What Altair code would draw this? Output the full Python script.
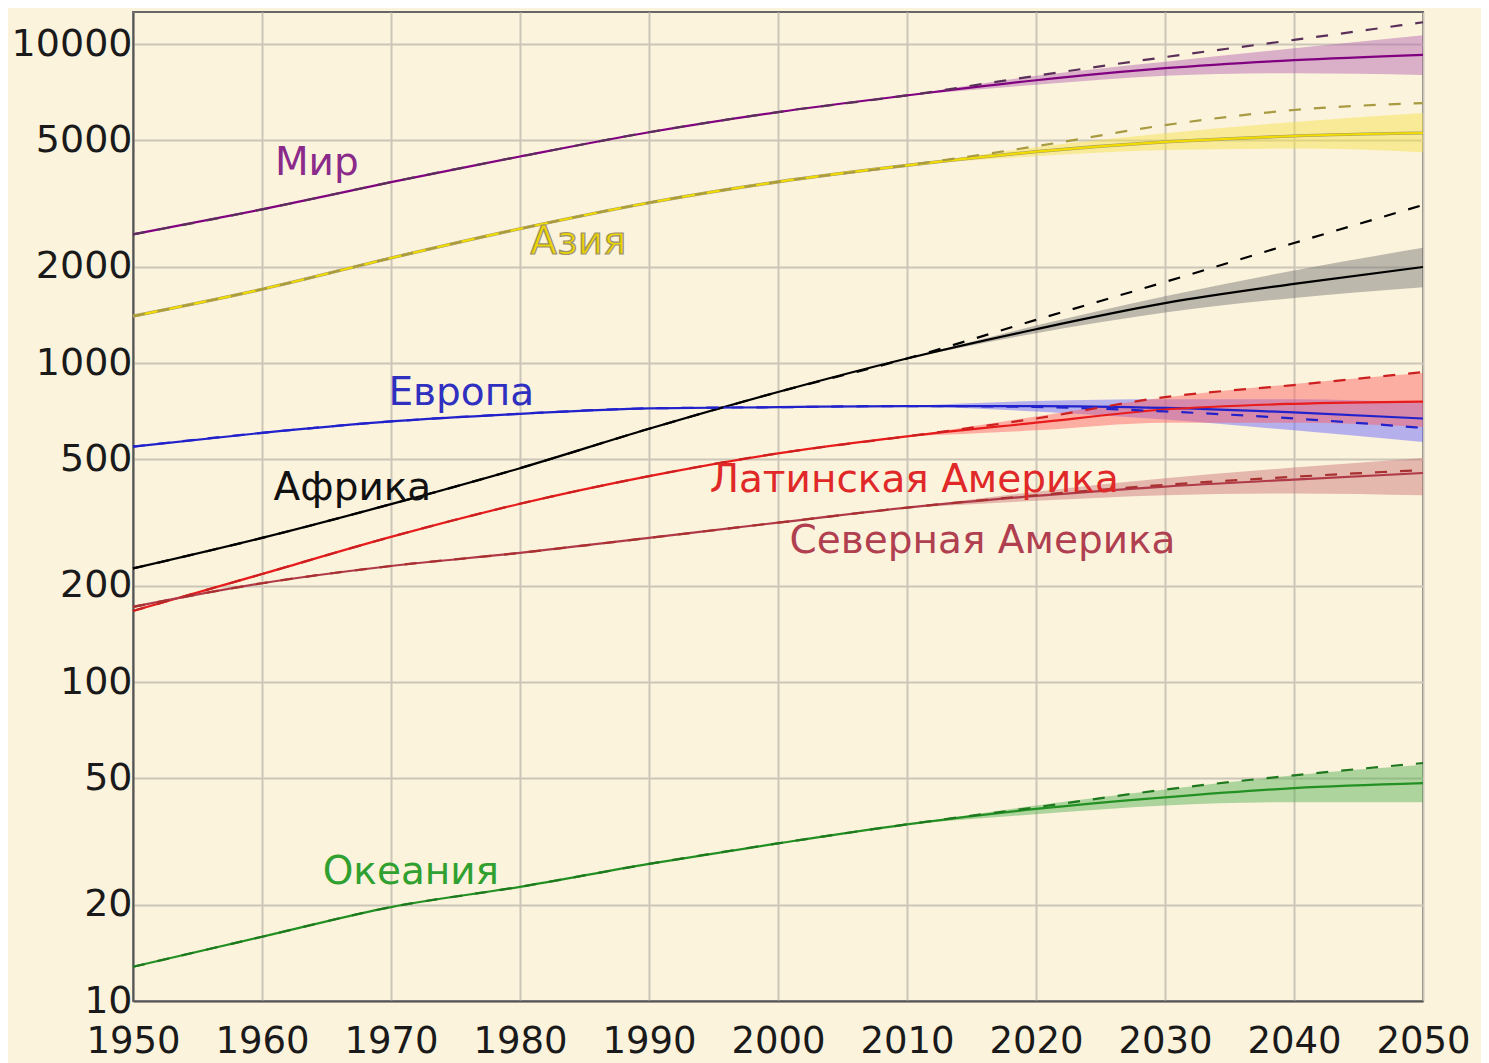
import altair as alt
import pandas as pd

# ---- data (millions) ----
years = [1950, 1960, 1970, 1980, 1990, 2000, 2010, 2020, 2030, 2040, 2050]
proj_years = [2010, 2020, 2030, 2040, 2050]

regions = ["Мир", "Азия", "Африка", "Европа", "Латинская Америка", "Северная Америка", "Океания"]

median = {
    "Мир": [2530, 3030, 3690, 4440, 5290, 6120, 6900, 7700, 8400, 8900, 9250],
    "Азия": [1403, 1703, 2134, 2636, 3180, 3699, 4166, 4596, 4931, 5148, 5260],
    "Африка": [227, 283, 361, 468, 622, 811, 1033, 1276, 1540, 1770, 2000],
    "Европа": [547, 604, 656, 693, 721, 727, 733, 733, 723, 700, 670],
    "Латинская Америка": [167, 218, 285, 362, 442, 521, 589, 650, 715, 745, 757],
    "Северная Америка": [172, 204, 231, 254, 283, 316, 352, 383, 410, 431, 452],
    "Океания": [12.8, 15.9, 19.7, 22.8, 26.9, 31.2, 35.8, 40.0, 43.5, 46.5, 48.2],
}
low = {
    "Мир": [6900, 7450, 7950, 8100, 8000],
    "Азия": [4166, 4450, 4650, 4700, 4580],
    "Африка": [1033, 1240, 1440, 1600, 1729],
    "Европа": [733, 705, 665, 615, 565],
    "Латинская Америка": [589, 615, 650, 650, 630],
    "Северная Америка": [352, 370, 385, 390, 385],
    "Океания": [35.8, 38.5, 41, 42, 42],
}
high = {
    "Мир": [6900, 7950, 8800, 9700, 10660],
    "Азия": [4166, 4750, 5250, 5700, 6080],
    "Африка": [1033, 1310, 1620, 1950, 2297],
    "Европа": [733, 760, 770, 770, 750],
    "Латинская Америка": [589, 680, 780, 860, 930],
    "Северная Америка": [352, 395, 435, 470, 504],
    "Океания": [35.8, 41, 46, 51, 55],
}
# constant-fertility variant, 2020-2050 (history shared with median)
const_fert = {
    "Мир": [7950, 9100, 10300, 11700],
    "Азия": [4780, 5570, 6210, 6530],
    "Африка": [1365, 1795, 2377, 3127],
    "Европа": [728, 705, 670, 626],
    "Латинская Америка": [670, 782, 853, 937],
    "Северная Америка": [385, 415, 440, 462],
    "Океания": [40.5, 46, 51, 55.7],
}

label_year = [1961.0, 1980.8, 1960.9, 1969.8, 1994.7, 2000.9, 1964.7]
label_value = [4240, 2393, 405, 805, 430, 277, 25.4]

line_colors = ["#800080", "#f2dc00", "#000000", "#2222cc", "#e81c1c", "#b03a48", "#229022"]
band_colors = ["#b060b0", "#f5e040", "#707070", "#6060ff", "#ff5a5a", "#c87070", "#50b050"]
dash_colors = ["#5a305a", "#a89a40", "#000000", "#2222cc", "#cc2020", "#a83030", "#1e781e"]
text_colors = ["#8a2a8a", "#e8cc00", "#111111", "#3030c0", "#e02828", "#b04050", "#30a030"]

# ---- build tables ----
rows_med, rows_dash, rows_band = [], [], []
for r in regions:
    for y, v in zip(years, median[r]):
        rows_med.append({"year": y, "value": v, "region": r})
    dash_vals = median[r][:7] + const_fert[r]
    for y, v in zip(years, dash_vals):
        rows_dash.append({"year": y, "value": v, "region": r})
    for y, lo, hi in zip(proj_years, low[r], high[r]):
        rows_band.append({"year": y, "lo": lo, "hi": hi, "region": r})
df_med = pd.DataFrame(rows_med)
df_dash = pd.DataFrame(rows_dash)
df_band = pd.DataFrame(rows_band)
df_lab = pd.DataFrame({"region": regions, "year": label_year, "value": label_value})

FONT = "DejaVu Sans"
INTERP = "monotone"
xscale = alt.Scale(domain=[1950, 2050], nice=False, zero=False)
yscale = alt.Scale(type="log", domain=[10, 12600], nice=False)

x_axis = alt.Axis(values=list(range(1950, 2051, 10)), format="d", title=None,
                  labelFont=FONT, labelFontSize=37, labelColor="#1a1a1a",
                  ticks=False, labelPadding=22, grid=True, gridColor="#cbc6b8",
                  gridWidth=2, domainColor="#555555", domainWidth=2,
                  labelFlush=False)
y_axis = alt.Axis(values=[10, 20, 50, 100, 200, 500, 1000, 2000, 5000, 10000], format="d",
                  title=None, labelFont=FONT, labelFontSize=38, labelColor="#1a1a1a",
                  ticks=False, labelPadding=1, grid=True, gridColor="#cbc6b8",
                  gridWidth=2, domainColor="#555555", domainWidth=2, labelFlush=False)

band_col = alt.Color("region:N", scale=alt.Scale(domain=regions, range=band_colors), legend=None)
line_col = alt.Color("region:N", scale=alt.Scale(domain=regions, range=line_colors), legend=None)
dash_col = alt.Color("region:N", scale=alt.Scale(domain=regions, range=dash_colors), legend=None)
text_col = alt.Color("region:N", scale=alt.Scale(domain=regions, range=text_colors), legend=None)

bands = alt.Chart(df_band).mark_area(opacity=0.45, interpolate=INTERP).encode(
    x=alt.X("year:Q", scale=xscale, axis=x_axis),
    y=alt.Y("lo:Q", scale=yscale, axis=y_axis),
    y2="hi:Q",
    color=band_col,
    detail="region:N",
)

asia_under = alt.Chart(df_med[df_med.region == "Азия"]).mark_line(
    strokeWidth=3.2, color="#a09870", interpolate=INTERP).encode(
    x=alt.X("year:Q", scale=xscale), y=alt.Y("value:Q", scale=yscale))

lines = alt.Chart(df_med).mark_line(strokeWidth=2.2, interpolate=INTERP).encode(
    x=alt.X("year:Q", scale=xscale),
    y=alt.Y("value:Q", scale=yscale),
    color=line_col,
    detail="region:N",
)

dashes = alt.Chart(df_dash).mark_line(strokeWidth=2.2, strokeDash=[12, 13],
                                      interpolate=INTERP).encode(
    x=alt.X("year:Q", scale=xscale),
    y=alt.Y("value:Q", scale=yscale),
    color=dash_col,
    detail="region:N",
)

labels = alt.Chart(df_lab[df_lab.region != "Азия"]).mark_text(
    align="left", baseline="middle", font=FONT, fontSize=39).encode(
    x=alt.X("year:Q", scale=xscale),
    y=alt.Y("value:Q", scale=yscale),
    text="region:N",
    color=text_col,
)
asia_label = alt.Chart(df_lab[df_lab.region == "Азия"]).mark_text(
    align="left", baseline="middle", font=FONT, fontSize=39,
    color="#ecd400", stroke="#9a9070", strokeWidth=1.2).encode(
    x=alt.X("year:Q", scale=xscale),
    y=alt.Y("value:Q", scale=yscale),
    text="region:N",
)

chart = alt.layer(bands, asia_under, lines, dashes, labels, asia_label).properties(
    width=1290, height=989,
    background="#fcf3dc",
    padding={"left": 125, "top": 4, "right": 58, "bottom": 62},
    autosize=alt.AutoSizeParams(type="none"),
).configure_view(stroke="#666666", strokeWidth=2).resolve_scale(color="independent")

chart.save("out.html", embed_options={"renderer": "svg", "actions": False})
